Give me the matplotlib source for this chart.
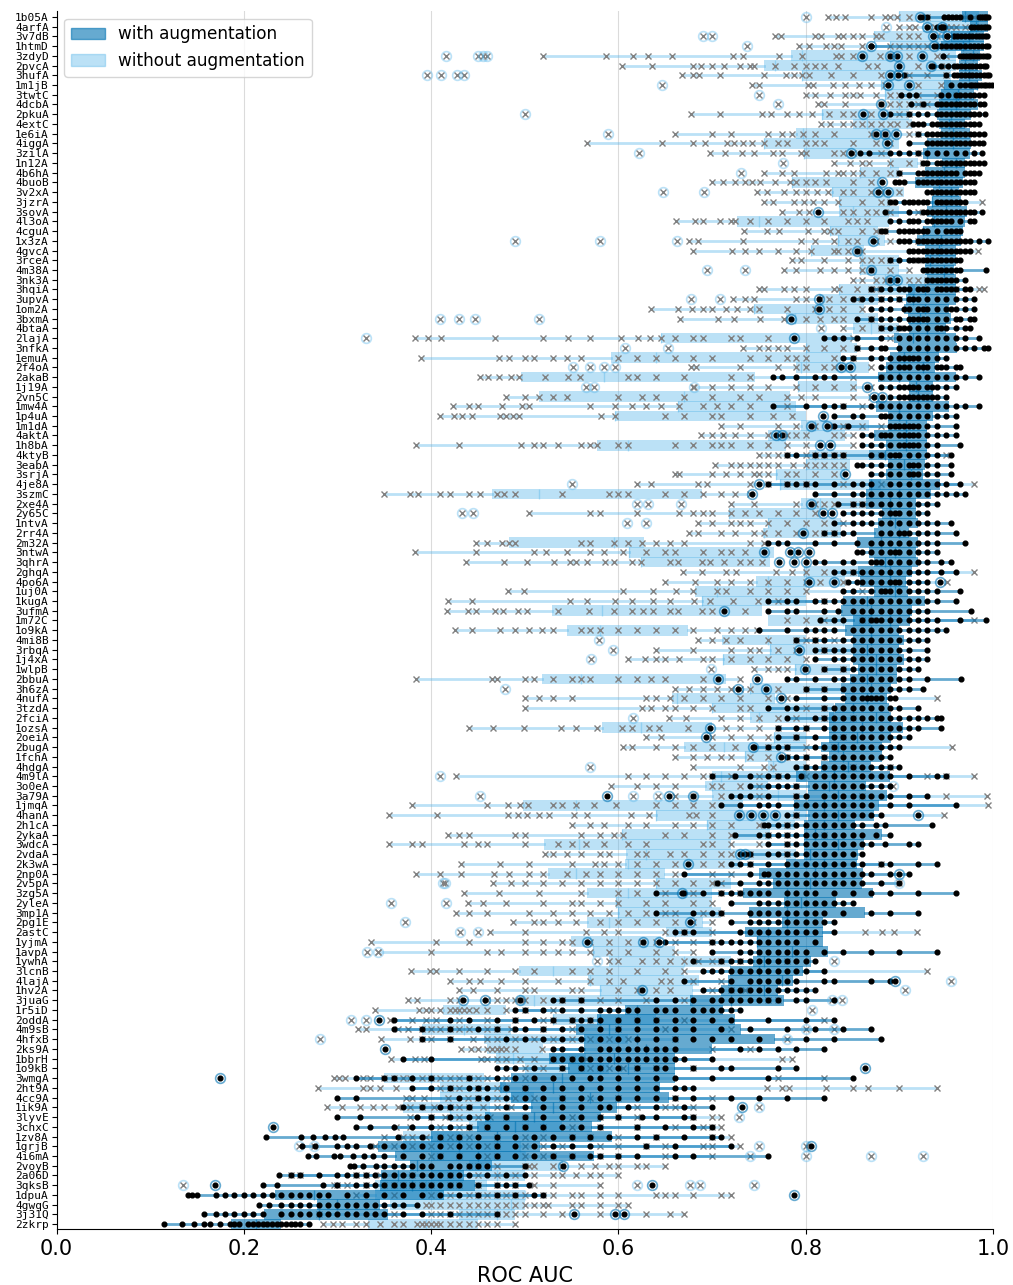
import numpy as np
import matplotlib
matplotlib.use("Agg")
import matplotlib.pyplot as plt
from matplotlib.patches import Patch

labels = """1b05A 4arfA 3v7dB 1htmD 3zdyD 2pvcA 3hufA 1m1jB 3twtC 4dcbA 2pkuA 4extC 1e6iA 4iggA 3zilA 1n12A 4b6hA 4buoB 3v2xA 3jzrA 3sovA 4l3oA 4cguA 1x3zA 4gvcA
3rceA 4m38A 3nk3A 3hqiA 3upvA 1om2A 3bxmA 4btaA 2lajA 3nfkA 1emuA 2f4oA 2akaB 1j19A 2vn5C 1mw4A 1p4uA 1m1dA 4aktA 1h8bA 4ktyB 3eabA 3srjA 4je8A 3szmC 2xe4A 2y65C 1ntvA 2rr4A 2m32A
3ntwA 3qhrA 2ghqA 4po6A 1uj0A 1kugA 3ufmA 1m72C 1o9kA 4mi8B 3rbqA 1j4xA 1wlpB 2bbuA 3h6zA 4nufA 3tzdA 2fciA 1ozsA 2oeiA 2bugA 1fchA 4hdgA 4m9lA 3o0eA 3a79A 1jmqA 4hanA 2h1cA 2ykaA
3wdcA 2vdaA 2k3wA 2np0A 2v5pA 3zg5A 2yleA 3mp1A 2pg1E 2astC 1yjmA 1avpA 1ywhA 3lcnB 4lajA 1hv2A 3juaG 1r5iD 2oddA 4m9sB 4hfxB 2ks9A 1bbrH 1o9kB 3wmgA 2ht9A 4cc9A 1ik9A 3lyvE 3chxC
1zv8A 1grjB 4i6mA 2voyB 2a06D 3qksB 1dpuA 4gwqG 3j31Q 2zkrp""".split()

with_q1 = [.967,.975,.955,.945,.966,.964,.964,.948,.945,.942,.94,.942,.944,.93,.925,.946,.927,.917,.936,.935,.93,.935,.925,.919,.927,
.927,.927,.93,.909,.907,.905,.909,.91,.894,.899,.89,.886,.877,.91,.91,.875,.888,.888,.873,.886,.868,.888,.886,.868,.864,.864,.881,.877,.873,.855,
.868,.873,.856,.858,.873,.84,.838,.851,.842,.851,.851,.851,.856,.847,.838,.842,.831,.825,.825,.825,.816,.825,.816,.79,.802,.802,.787,.802,.798,.798,
.798,.798,.779,.75,.765,.733,.777,.739,.775,.735,.748,.748,.744,.719,.717,.71,.676,.607,.577,.555,.563,.563,.526,.546,.485,.474,.485,.507,.458,.449,
.40,.343,.361,.377,.347,.345,.233,.278,.222,.186]
with_q3 = [.995,.995,.99,.99,.986,.984,.988,.984,.98,.984,.976,.97,.975,.976,.975,.97,.97,.968,.964,.966,.972,.97,.968,.966,.96,
.96,.958,.96,.96,.96,.953,.955,.95,.96,.962,.942,.938,.96,.936,.936,.953,.936,.93,.93,.93,.93,.927,.925,.943,.934,.918,.918,.92,.91,.92,
.918,.92,.914,.907,.909,.927,.914,.911,.90,.905,.90,.905,.898,.898,.891,.887,.889,.891,.904,.891,.882,.882,.87,.89,.864,.887,.878,.873,.853,.882,
.862,.856,.855,.861,.86,.872,.832,.863,.819,.819,.819,.824,.806,.797,.786,.77,.777,.712,.724,.731,.767,.70,.66,.66,.66,.644,.654,.598,.581,.572,
.593,.516,.574,.465,.435,.447,.414,.345,.354,.24]
without_q1 = [.90,.925,.873,.89,.784,.756,.796,.88,.885,.89,.817,.85,.79,.755,.798,.89,.858,.785,.828,.836,.836,.727,.826,.835,.806,
.858,.858,.873,.836,.814,.745,.779,.85,.646,.80,.592,.79,.496,.792,.515,.664,.596,.795,.76,.577,.803,.80,.768,.773,.465,.795,.718,.76,.754,.483,
.611,.624,.798,.747,.682,.689,.529,.76,.545,.711,.762,.712,.789,.518,.74,.657,.70,.74,.582,.766,.67,.735,.76,.70,.693,.70,.498,.64,.695,.604,
.521,.608,.607,.525,.64,.566,.597,.60,.566,.651,.549,.573,.59,.494,.568,.58,.494,.413,.53,.39,.457,.46,.469,.50,.35,.41,.41,.37,.42,.44,
.37,.37,.40,.44,.40,.34,.34,.356,.43,.333]
without_q3 = [.985,.985,.98,.975,.96,.96,.955,.955,.965,.965,.91,.913,.90,.90,.89,.92,.90,.88,.905,.89,.90,.889,.877,.885,.862,
.90,.90,.93,.917,.877,.862,.877,.90,.849,.855,.838,.868,.746,.855,.783,.79,.80,.868,.842,.779,.868,.847,.842,.88,.689,.864,.816,.838,.838,.627,
.766,.762,.856,.842,.80,.80,.753,.87,.674,.80,.851,.798,.847,.715,.838,.767,.83,.83,.70,.80,.80,.774,.80,.80,.76,.80,.733,.80,.789,.762,
.72,.79,.73,.65,.72,.70,.70,.71,.69,.70,.646,.66,.72,.67,.686,.68,.68,.48,.64,.485,.61,.52,.565,.59,.457,.48,.51,.463,.463,.54,
.43,.495,.50,.54,.50,.46,.50,.50,.49,.45]

with_pts = [
[.925,.929,.948,.952,.956,.96,.965,.975,.985,.987,.989,.991,.993,.995],
[.94,.944,.948,.976,.98,.984,.987,.99,.993,.995],
[.936,.951,.958,.962,.966,.97,.974,.978,.982,.985,.988,.991,.994],
[.87,.94,.945,.95,.955,.96,.965,.97,.975,.98,.984,.988,.992,.995],
[.947,.965,.968,.971,.974,.977,.98,.983,.986,.989,.992,.995],
[.936,.945,.952,.958,.962,.966,.97,.974,.978,.982,.986,.99,.993],
[.905,.95,.958,.962,.966,.97,.974,.978,.982,.986,.99,.994,.996],
[.955,.965,.97,.975,.978,.981,.984,.987,.99,.993,.996,.999],
[.902,.91,.918,.945,.952,.96,.965,.97,.975,.98,.985,.99],
[.912,.925,.94,.945,.95,.955,.96,.965,.97,.975,.98,.986,.99],
[.89,.91,.92,.93,.94,.945,.95,.955,.96,.965,.97,.975,.98,.985,.991],
[.915,.92,.925,.935,.94,.945,.95,.955,.96,.965,.97,.975,.98,.985],
[.92,.93,.935,.94,.945,.95,.955,.96,.965,.97,.975,.98,.985,.99],
[.91,.93,.935,.94,.945,.95,.955,.96,.965,.97,.975,.98,.985,.989],
[.858,.868,.89,.9,.91,.92,.93,.94,.95,.96,.97,.98,.988],
[.925,.93,.94,.945,.95,.955,.96,.965,.97,.975,.98,.985,.99],
[.9,.92,.925,.93,.935,.94,.945,.95,.955,.96,.97,.975,.98,.985],
[.895,.9,.905,.92,.925,.93,.935,.94,.945,.95,.955,.96,.965,.97,.975,.98],
[.93,.935,.94,.945,.95,.955,.96,.965,.97,.975,.98],
[.89,.895,.905,.91,.915,.92,.925,.93,.94,.945,.95,.955,.96,.965,.97],
[.885,.91,.925,.93,.935,.94,.945,.95,.955,.96,.965,.97,.975,.98,.988],
[.89,.9,.91,.915,.92,.93,.935,.94,.945,.95,.955,.965,.975,.98],
[.88,.885,.9,.905,.91,.915,.92,.925,.93,.94,.95,.955,.96,.965],
[.9,.905,.91,.92,.925,.93,.935,.94,.945,.95,.955,.96,.965,.97,.975,.985,.995],
[.91,.915,.92,.925,.93,.935,.94,.945,.95,.955,.96,.965,.97,.975],
[.89,.9,.91,.915,.92,.925,.93,.935,.94,.945,.95,.955,.96,.965],
[.925,.93,.935,.94,.945,.95,.955,.96,.965,.992],
[.93,.935,.94,.945,.95,.955,.96,.97],
[.87,.88,.89,.9,.905,.91,.92,.925,.93,.94,.945,.95,.955,.96,.97,.975],
[.85,.86,.87,.88,.89,.9,.91,.915,.92,.93,.94,.95,.96,.97,.98],
[.87,.88,.89,.905,.91,.92,.925,.93,.94,.95,.955,.96,.97,.98],
[.855,.87,.88,.89,.9,.91,.915,.92,.925,.93,.94,.95,.96,.965,.975,.98],
[.88,.89,.9,.905,.91,.92,.93,.94,.945,.95,.96,.97,.975],
[.82,.83,.84,.855,.88,.9,.91,.92,.93,.94,.95,.96,.97,.985],
[.855,.87,.88,.885,.9,.91,.92,.93,.94,.95,.96,.97,.98,.99,.995],
[.84,.85,.87,.88,.89,.9,.905,.91,.915,.92,.93,.94,.95],
[.88,.89,.9,.905,.91,.92,.925,.93,.94,.945,.95,.96,.965],
[.765,.775,.79,.81,.82,.83,.88,.89,.9,.91,.92,.93,.94,.95,.96,.97,.985],
[.88,.89,.9,.905,.91,.915,.92,.93,.935,.94,.95,.96],
[.89,.9,.905,.91,.915,.92,.925,.93,.935,.94,.95],
[.765,.8,.82,.83,.84,.87,.88,.89,.9,.91,.92,.93,.94,.95,.96,.97,.985],
[.83,.85,.86,.88,.885,.89,.9,.91,.92,.93,.94,.95,.96],
[.83,.845,.89,.895,.9,.905,.91,.915,.92,.93,.94,.96],
[.86,.87,.88,.885,.89,.9,.905,.91,.915,.92,.93,.94,.95,.96],
[.86,.87,.88,.89,.9,.905,.91,.915,.92,.93,.94,.965],
[.78,.79,.81,.82,.83,.84,.87,.88,.89,.895,.9,.91,.92,.93,.94,.955],
[.855,.86,.87,.88,.89,.9,.91,.915,.92,.93,.94,.955],
[.87,.88,.89,.9,.91,.915,.92,.93,.94,.955],
[.76,.78,.79,.80,.81,.83,.85,.86,.87,.89,.9,.91,.92,.93,.94,.95,.965],
[.81,.83,.85,.86,.87,.88,.89,.9,.91,.92,.93,.94,.95,.96,.97],
[.835,.85,.86,.87,.88,.89,.9,.91,.92,.93,.94],
[.84,.85,.86,.87,.88,.89,.895,.9,.91,.92,.93],
[.83,.85,.86,.87,.88,.89,.9,.91,.92,.93,.94,.955],
[.82,.83,.84,.85,.88,.89,.9,.905,.91,.92,.93,.94,.96],
[.76,.77,.78,.81,.83,.855,.87,.88,.89,.9,.91,.92,.93,.94,.97],
[.855,.86,.87,.88,.89,.895,.9,.91,.92,.93,.94],
[.81,.82,.84,.85,.87,.875,.88,.89,.9,.91,.92,.93,.945,.955],
[.83,.84,.85,.86,.87,.88,.89,.9,.91,.92,.93,.945,.96],
[.845,.855,.86,.87,.88,.89,.895,.9,.91,.92,.93],
[.84,.85,.87,.88,.885,.89,.9,.91,.92,.93,.94,.965],
[.76,.78,.79,.81,.82,.83,.84,.85,.86,.87,.88,.89,.9,.91,.92,.93,.94,.96],
[.76,.78,.79,.82,.835,.85,.86,.87,.88,.89,.9,.91,.92,.93,.976],
[.815,.83,.84,.86,.87,.875,.88,.89,.9,.91,.92,.93,.94,.965,.992],
[.75,.78,.80,.81,.82,.83,.85,.86,.87,.88,.89,.9,.91,.92,.93,.94,.95],
[.79,.81,.82,.84,.85,.86,.87,.88,.89,.9,.91,.92,.93],
[.81,.82,.83,.84,.85,.86,.87,.88,.89,.9,.91,.93],
[.81,.83,.84,.85,.86,.87,.88,.89,.9,.91,.92,.93],
[.82,.84,.85,.86,.87,.88,.89,.9,.91,.92],
[.78,.79,.81,.83,.84,.85,.86,.87,.88,.89,.9,.91,.93,.966],
[.80,.82,.84,.85,.86,.87,.88,.89,.9,.91,.925],
[.79,.82,.84,.85,.86,.865,.87,.875,.88,.89,.895],
[.76,.78,.79,.82,.83,.84,.85,.86,.87,.88,.89,.9,.92],
[.78,.81,.82,.83,.84,.85,.86,.87,.88,.89,.9,.91,.92,.93,.94,.945],
[.77,.79,.80,.82,.83,.84,.85,.86,.87,.88,.89,.9,.91,.92,.945],
[.77,.79,.81,.83,.84,.85,.86,.87,.88,.89,.9,.91],
[.745,.76,.77,.78,.81,.82,.83,.84,.85,.86,.87,.88,.89,.9],
[.78,.79,.80,.82,.83,.84,.85,.86,.87,.88,.89],
[.79,.80,.81,.82,.83,.84,.85,.86,.87,.88,.89,.9],
[.70,.725,.74,.76,.77,.78,.795,.81,.82,.83,.84,.85,.86,.87,.88,.89,.91,.94,.95],
[.74,.76,.77,.78,.79,.81,.82,.83,.84,.85,.86,.87,.88,.89],
[.72,.73,.74,.76,.79,.80,.82,.83,.84,.85,.86,.87,.88,.89,.91,.93],
[.71,.73,.75,.76,.77,.79,.80,.81,.82,.83,.84,.85,.86,.87,.89,.91,.96],
[.78,.79,.81,.82,.83,.84,.85,.86,.87,.88],
[.755,.76,.77,.78,.79,.80,.81,.82,.83,.84,.85,.86,.875,.885,.935],
[.725,.75,.76,.77,.78,.79,.80,.81,.82,.83,.84,.85,.86,.875,.89],
[.76,.78,.79,.80,.81,.82,.83,.84,.85,.86,.87,.885,.91,.92],
[.74,.76,.77,.78,.79,.80,.81,.82,.83,.84,.85,.86],
[.72,.73,.74,.76,.78,.79,.80,.81,.82,.83,.84,.85,.86,.88,.89,.92,.94],
[.67,.74,.755,.76,.77,.78,.79,.80,.81,.82,.83,.84,.85,.86,.87,.89,.91],
[.705,.73,.75,.76,.77,.78,.79,.80,.81,.82,.83,.84,.85,.86,.88,.90],
[.64,.67,.69,.71,.72,.73,.74,.75,.76,.78,.79,.80,.81,.83,.85,.87,.89,.92,.96],
[.72,.75,.76,.77,.78,.79,.80,.81,.82,.83,.84,.85],
[.64,.68,.70,.71,.74,.75,.76,.77,.78,.79,.80,.81,.82,.84,.87,.89,.92],
[.72,.74,.75,.76,.77,.78,.79,.80,.81,.82,.83],
[.66,.67,.68,.73,.74,.75,.76,.77,.78,.79,.80,.81,.83],
[.65,.70,.71,.72,.73,.74,.75,.76,.77,.78,.79,.81],
[.70,.73,.74,.75,.76,.77,.78,.79,.80,.82,.84,.87,.90,.94],
[.68,.71,.72,.73,.74,.75,.76,.77,.78,.79,.80,.81],
[.69,.70,.71,.72,.73,.74,.75,.76,.77,.78,.79,.80,.82],
[.67,.72,.74,.75,.76,.77,.78,.79,.82,.83,.87,.89],
[.69,.71,.72,.73,.74,.75,.76,.77,.78,.79,.80,.81],
[.53,.54,.56,.64,.66,.68,.70,.71,.72,.73,.74,.75,.76,.77,.79,.80,.83],
[.49,.50,.52,.54,.56,.58,.59,.60,.61,.62,.64,.65,.66,.68,.69,.70,.71,.72,.73],
[.36,.42,.44,.47,.49,.51,.53,.55,.56,.57,.58,.60,.62,.64,.66,.68,.70,.72,.76,.80,.83],
[.36,.39,.42,.45,.47,.49,.50,.52,.54,.56,.58,.60,.62,.64,.66,.68,.71,.74,.78,.81,.84,.87],
[.39,.42,.48,.50,.52,.54,.56,.58,.60,.62,.64,.66,.68,.70,.72,.75,.80,.83,.88],
[.53,.54,.56,.58,.59,.60,.61,.62,.63,.64,.65,.66,.73,.75,.77,.79,.82],
[.37,.40,.53,.54,.55,.56,.57,.58,.59,.60,.61,.62,.63,.64,.65,.66,.67,.70],
[.47,.48,.49,.51,.54,.56,.58,.60,.62,.64,.65,.68,.71,.72,.77,.79],
[.32,.35,.36,.38,.40,.44,.47,.49,.51,.53,.55,.57,.58,.60,.62,.64,.66,.70,.76,.85],
[.38,.40,.42,.44,.45,.46,.48,.50,.52,.54,.56,.58,.60,.62,.64,.66,.67,.68],
[.30,.32,.43,.45,.46,.48,.50,.52,.54,.56,.58,.60,.62,.64,.66,.68,.72,.75,.78,.82],
[.37,.39,.41,.42,.44,.48,.50,.52,.54,.56,.58,.59,.61,.64,.67,.70],
[.299,.324,.385,.40,.42,.44,.46,.48,.50,.52,.54,.56,.58,.60,.625,.64,.67,.68],
[.32,.335,.36,.38,.40,.42,.44,.46,.48,.50,.52,.54,.56,.58,.62,.65,.68,.70],
[.224,.261,.274,.287,.297,.306,.365,.39,.41,.43,.45,.47,.49,.51,.53,.55,.57,.59,.62,.64,.67,.70,.71],
[.262,.276,.30,.31,.32,.335,.35,.37,.39,.41,.43,.45,.47,.49,.51,.53,.55,.57,.63,.66,.72],
[.269,.277,.296,.303,.317,.328,.338,.35,.37,.39,.41,.43,.45,.47,.49,.51,.53,.55,.57,.58,.60,.62,.66,.68,.76],
[.313,.318,.327,.341,.35,.36,.37,.38,.39,.40,.42,.43,.44,.45,.46,.50],
[.238,.25,.26,.28,.30,.31,.32,.33,.34,.35,.36,.37,.38,.39,.40,.41,.42,.43,.44,.46,.48,.50],
[.22,.235,.285,.30,.32,.33,.34,.35,.36,.37,.38,.39,.40,.41,.42,.43,.45,.47,.48,.49,.505],
[.14,.145,.15,.17,.18,.19,.2,.21,.22,.23,.24,.25,.26,.27,.28,.29,.31,.33,.35,.37,.39,.41,.43,.45,.47,.49,.51,.52],
[.216,.227,.24,.25,.26,.27,.28,.29,.30,.31,.32,.33,.34,.35,.36,.37,.385],
[.158,.17,.18,.19,.2,.21,.22,.24,.25,.26,.27,.28,.29,.30,.31,.32,.33,.34,.35,.37,.39,.42,.47],
[.115,.134,.147,.157,.164,.175,.185,.19,.195,.205,.21,.215,.22,.225,.23,.235,.24,.245,.25,.255,.26,.27],
]

without_pts = [
[.824,.832,.842,.87,.885,.89,.897,.91,.93,.95,.97,.98],
[.90,.91,.917,.932,.938,.95,.955,.96,.97,.98],
[.767,.774,.81,.816,.834,.84,.85,.86,.875,.88,.90,.91,.92,.94,.95,.96],
[.793,.803,.822,.83,.838,.86,.89,.90,.91,.92,.93,.95,.96],
[.52,.587,.616,.632,.657,.722,.733,.772,.796,.832,.838,.85,.879,.89,.91,.94,.95],
[.604,.636,.68,.688,.70,.713,.73,.74,.745,.767,.788,.80,.81,.82,.834,.866,.876,.92,.95],
[.668,.68,.686,.708,.755,.779,.787,.796,.804,.827,.85,.88,.91,.93,.95],
[.743,.75,.802,.808,.829,.842,.857,.87,.885,.92,.945],
[.80,.81,.826,.842,.85,.858,.875,.89,.90,.92,.94,.96],
[.813,.82,.842,.88,.89,.90,.91,.92,.93,.945,.96],
[.677,.708,.753,.763,.78,.793,.807,.825,.84,.85,.87,.90,.91],
[.816,.826,.84,.85,.86,.87,.88,.89,.897,.91],
[.66,.70,.72,.76,.775,.785,.797,.81,.83,.87,.885,.91,.92],
[.567,.647,.68,.693,.716,.723,.733,.743,.755,.77,.78,.80,.81,.82,.85,.875,.89],
[.698,.714,.732,.745,.765,.775,.795,.80,.83,.84,.85,.88,.92],
[.83,.847,.86,.868,.89,.91,.925],
[.756,.775,.787,.822,.834,.84,.85,.86,.875,.89,.90],
[.70,.712,.725,.735,.743,.751,.767,.783,.79,.80,.81,.822,.85,.87],
[.748,.759,.777,.79,.80,.812,.824,.84,.85,.87,.88,.90],
[.755,.765,.787,.798,.808,.82,.835,.86,.88,.89,.95,.988],
[.775,.793,.803,.84,.85,.865,.875,.89,.92],
[.662,.682,.69,.708,.72,.725,.74,.76,.78,.80,.82,.845,.855,.865],
[.734,.759,.771,.802,.82,.826,.835,.86,.875,.885],
[.675,.685,.733,.795,.81,.83,.845,.855,.875,.89,.92],
[.68,.721,.735,.75,.77,.79,.806,.83,.835,.845,.855,.86,.984],
[.785,.795,.82,.845,.86,.87,.88,.89,.92],
[.777,.79,.815,.83,.845,.86,.87,.89,.91],
[.85,.86,.875,.885,.91,.92,.93],
[.75,.755,.777,.787,.80,.83,.836,.855,.87,.875,.96,.985,.99],
[.722,.735,.745,.79,.80,.815,.825,.84,.855,.88,.90],
[.635,.664,.679,.69,.70,.715,.727,.74,.75,.78,.81,.825,.84,.86],
[.666,.706,.723,.751,.777,.80,.815,.83,.84,.87],
[.84,.86,.88,.90],
[.383,.397,.411,.468,.52,.546,.57,.603,.621,.634,.645,.66,.68,.69,.72,.73,.76,.85,.89],
[.733,.75,.76,.77,.78,.80,.82,.84,.855],
[.389,.472,.483,.50,.51,.53,.545,.56,.60,.62,.64,.66,.68,.70,.74,.76,.78,.79,.80,.83,.85],
[.677,.683,.73,.77,.79,.80,.82,.83,.84,.87],
[.452,.461,.472,.485,.494,.522,.546,.559,.61,.62,.64,.67,.72,.74,.85,.88],
[.68,.70,.72,.74,.76,.79,.81,.83,.85,.87],
[.48,.50,.515,.53,.545,.60,.625,.64,.67,.70,.73,.75,.78,.795,.81,.85,.87],
[.423,.44,.45,.476,.497,.505,.57,.596,.615,.63,.645,.665,.69,.705,.72,.74,.78,.84,.86],
[.409,.424,.433,.444,.474,.48,.487,.494,.581,.596,.65,.67,.70,.71,.74,.765,.785],
[.71,.73,.77,.79,.81,.825,.84,.86,.88],
[.688,.70,.712,.725,.74,.76,.78,.79,.80,.83,.84,.85],
[.384,.43,.496,.51,.52,.535,.56,.57,.577,.60,.61,.66,.68,.70,.71,.72,.74,.76,.78,.80,.85],
[.75,.76,.77,.78,.80,.81,.82,.83,.84,.88,.95],
[.703,.72,.73,.74,.75,.76,.77,.786,.80,.81,.82,.83,.84],
[.66,.665,.70,.715,.73,.745,.75,.76,.78,.79,.81,.83],
[.62,.635,.685,.695,.74,.76,.78,.80,.84,.88,.98],
[.35,.378,.386,.41,.42,.44,.452,.47,.478,.49,.54,.59,.60,.61,.65,.67,.69,.71,.725,.74],
[.72,.745,.79,.81,.82,.83,.85,.86],
[.505,.57,.58,.62,.665,.68,.69,.70,.72,.735,.75,.77,.79,.81],
[.685,.70,.72,.73,.74,.76,.78,.80,.82,.84],
[.675,.685,.71,.725,.745,.755,.77,.79,.81,.82,.83],
[.448,.46,.476,.483,.49,.56,.57,.595,.61,.625,.64,.655,.67,.74,.755],
[.383,.448,.51,.523,.545,.57,.585,.605,.63,.65,.66,.69,.71,.72,.735],
[.437,.478,.502,.531,.548,.555,.567,.586,.595,.615,.624,.655,.664,.689,.698,.713,.73,.74,.753],
[.669,.689,.715,.726,.768,.785,.80,.82,.85,.98],
[.65,.682,.705,.72,.74,.76,.78,.80,.815,.84,.951],
[.482,.499,.605,.637,.662,.68,.705,.715,.74,.76,.78,.80,.86],
[.418,.444,.548,.566,.596,.615,.637,.655,.681,.698,.722,.749,.77,.82],
[.417,.439,.448,.468,.477,.493,.502,.535,.569,.595,.615,.626,.637,.655,.664,.689,.70,.735],
[.78,.80,.82,.86,.87,.98],
[.425,.444,.474,.49,.505,.518,.53,.56,.57,.58,.60,.62,.64,.66,.68,.705,.72,.735,.748],
[.685,.70,.715,.73,.76,.79,.80,.81,.83],
[.64,.68,.72,.74,.75,.77,.79,.82],
[.61,.628,.64,.65,.665,.69,.70,.72,.74,.76,.78,.80],
[.745,.76,.77,.78,.80,.82,.84],
[.384,.465,.47,.50,.51,.53,.55,.56,.57,.60,.62,.635,.65,.69,.73],
[.66,.675,.69,.705,.72,.73,.74,.77,.80,.82],
[.50,.515,.53,.55,.63,.64,.655,.67,.69,.71,.73,.76,.78,.94],
[.50,.625,.635,.65,.66,.68,.70,.73,.74,.80,.82],
[.654,.672,.71,.73,.75,.77,.79,.82,.85],
[.441,.466,.499,.539,.555,.577,.604,.615,.633,.643,.674,.715,.73,.75,.77,.80],
[.63,.645,.70,.72,.74,.76,.79,.84],
[.605,.615,.64,.66,.68,.70,.725,.76,.78,.80,.83,.956],
[.66,.68,.695,.71,.72,.74,.76,.78,.80,.82],
[.68,.73,.755,.765,.80,.85,.89],
[.427,.61,.63,.65,.67,.69,.70,.72,.75,.77,.80,.93,.95,.98],
[.592,.62,.64,.66,.70,.71,.73,.75,.79],
[.66,.68,.71,.75,.79,.86,.95,.994],
[.38,.46,.482,.495,.504,.53,.54,.555,.574,.597,.64,.66,.68,.70,.995],
[.355,.406,.482,.493,.502,.515,.526,.553,.567,.613,.633,.675,.683,.70,.79,.948],
[.55,.57,.585,.61,.63,.66,.68,.70,.72,.75,.78],
[.418,.43,.44,.49,.50,.56,.58,.595,.605,.65,.67,.70,.72,.76,.78,.82],
[.355,.38,.39,.435,.45,.46,.50,.535,.55,.565,.585,.61,.63,.69,.70,.72,.75,.78],
[.522,.53,.545,.56,.58,.59,.62,.63,.655,.67,.69,.71,.72,.74,.78],
[.432,.474,.505,.55,.575,.585,.60,.62,.64,.66,.69,.71,.74,.88],
[.384,.41,.432,.467,.483,.505,.52,.545,.565,.58,.60,.62,.64,.66,.70,.72],
[.466,.485,.50,.52,.54,.56,.58,.60,.62,.64,.66,.68,.70,.71],
[.435,.473,.515,.56,.60,.62,.65,.68,.71,.73],
[.439,.455,.48,.52,.55,.56,.58,.60,.63,.65,.68,.70],
[.427,.44,.46,.505,.53,.55,.57,.59,.61,.63,.65,.66,.69,.71],
[.487,.51,.52,.535,.555,.58,.60,.62,.64,.66,.68,.70],
[.463,.50,.565,.585,.60,.65,.67,.70,.863,.881,.894,.919],
[.336,.405,.44,.50,.52,.54,.55,.57,.59,.61,.625,.64,.66,.68,.70],
[.343,.40,.46,.475,.50,.52,.535,.55,.57,.59,.61,.64,.66,.68],
[.59,.60,.625,.64,.655,.67,.685,.70,.71,.73,.78],
[.379,.399,.405,.43,.46,.49,.51,.55,.57,.59,.62,.65,.67,.93],
[.42,.44,.452,.475,.50,.535,.57,.59,.605,.645,.655,.68,.71],
[.43,.445,.47,.50,.51,.55,.56,.60,.62,.64,.655,.70,.72,.735],
[.375,.385,.42,.43,.46,.47,.48,.49,.50,.52,.54,.56,.58,.60,.63,.67,.76,.77],
[.34,.387,.395,.40,.41,.42,.425,.43,.435,.44,.448,.46,.48,.50,.53],
[.356,.38,.395,.405,.43,.46,.49,.52,.53,.55,.57,.60,.62,.64,.67,.82],
[.322,.331,.365,.375,.39,.40,.41,.42,.43,.44,.46,.47,.485,.52,.55,.60,.65,.72],
[.346,.377,.39,.40,.42,.445,.46,.47,.49,.51,.53,.55,.57,.59,.61,.66],
[.432,.443,.45,.46,.465,.47,.475,.48,.49,.518,.70,.74],
[.357,.383,.392,.453,.46,.47,.48,.495,.51,.53,.55,.565,.775,.785],
[.50,.52,.54,.56,.57,.58,.59,.605,.62,.64,.68],
[.296,.302,.308,.327,.335,.35,.36,.37,.378,.39,.40,.41,.42,.43,.44,.45,.46,.48,.50,.77,.82],
[.279,.327,.335,.345,.362,.41,.42,.43,.45,.47,.48,.50,.759,.775,.782,.822,.85,.866,.90,.94],
[.373,.38,.392,.418,.439,.45,.47,.49,.51,.54,.57,.60,.66,.70],
[.289,.305,.324,.338,.35,.365,.378,.39,.403,.42,.43,.44,.455,.47,.485,.62,.65,.66,.68],
[.377,.40,.415,.43,.45,.463,.48,.50,.55,.58,.60,.62,.68,.70,.71],
[.362,.378,.41,.43,.44,.46,.50,.52,.55,.58,.62,.66,.69,.70,.71],
[.35,.37,.38,.395,.41,.42,.43,.44,.47,.50,.52,.55,.57,.60,.64,.70,.72],
[.34,.36,.38,.40,.42,.44,.46,.47,.50,.52,.54,.58,.60,.63,.65,.69,.70,.73],
[.40,.41,.43,.46,.47,.50,.52,.53,.55,.58,.60,.65,.70],
[.44,.45,.47,.50,.505,.51,.53,.54,.56,.575,.59,.60,.62,.63,.65],
[.25,.26,.32,.33,.345,.38,.42,.45,.47,.49,.51,.53,.54,.555,.57,.58,.60],
[.296,.30,.31,.33,.35,.36,.37,.38,.39,.40,.42,.43,.45,.47,.49,.51,.53,.58],
[.32,.36,.40,.42,.44,.45,.46,.47,.48,.49,.50,.52,.53,.55,.56,.58,.60,.64,.65,.66,.68,.71,.72],
[.395,.40,.41,.42,.43,.44,.45,.46,.47,.48,.49,.50,.51,.52,.525,.55,.56,.58,.60,.61],
[.28,.36,.40,.41,.42,.43,.44,.45,.46,.47,.48,.49,.50,.52,.54,.58,.63,.655,.67],
[.285,.295,.305,.32,.33,.345,.36,.37,.385,.39,.395,.40,.405,.41,.42,.43,.44,.45,.46,.47,.49],
]

with_fliers = {"1b05A":[.922],"4arfA":[.93,.946],"3v7dB":[.936,.951],"1htmD":[.87,.937],"3zdyD":[.86,.89,.897,.924],"2pvcA":[.90,.934],"3hufA":[.89,.899],
"1m1jB":[.888,.91],"4dcbA":[.88],"2pkuA":[.861,.883],"1e6iA":[.875,.885,.896],"4iggA":[.887],"3zilA":[.848],"4buoB":[.881],"3v2xA":[.877,.888],"3sovA":[.813],
"1x3zA":[.872],"4gvcA":[.855],"4m38A":[.87],"3nk3A":[.89,.898],"3upvA":[.814],"1om2A":[.814],"3bxmA":[.784],"2lajA":[.788],"2f4oA":[.838,.847],"1j19A":[.865],
"2vn5C":[.873,.881],"1p4uA":[.819],"1m1dA":[.806,.823],"4aktA":[.768,.775],"1h8bA":[.815,.826],"3srjA":[.842],"4je8A":[.75],"3szmC":[.743],"2xe4A":[.806],
"2y65C":[.818,.828],"2rr4A":[.797],"3ntwA":[.755,.783,.792,.803],"3qhrA":[.771,.787,.80],"4po6A":[.804,.83,.943],"3ufmA":[.713],"3rbqA":[.793],"1wlpB":[.799],
"2bbuA":[.706,.748],"3h6zA":[.728,.758],"4nufA":[.774],"1ozsA":[.698],"2oeiA":[.694],"2bugA":[.744],"1fchA":[.774],"3a79A":[.588,.654,.68],
"4hanA":[.729,.742,.754,.767,.92],"2vdaA":[.73,.735],"2k3wA":[.674],"2np0A":[.90],"3zg5A":[.668],"2pg1E":[.676],"1yjmA":[.567,.626,.643],"4lajA":[.895],
"1hv2A":[.625],"3juaG":[.434,.458,.495],"2oddA":[.344],"2ks9A":[.351],"1o9kB":[.863],"3wmgA":[.175],"1ik9A":[.732],"3chxC":[.231],"1grjB":[.806],
"3qksB":[.169,.636],"1dpuA":[.787],"3j31Q":[.553,.596,.606],"2voyB":[.541]}
without_fliers = {"1b05A":[.80],"4arfA":[.886],"3v7dB":[.69,.70],"1htmD":[.737],"3zdyD":[.416,.45,.455,.46],"3hufA":[.396,.411,.428,.435],"1m1jB":[.647],
"3twtC":[.75],"4dcbA":[.77],"2pkuA":[.50],"1e6iA":[.589],"3zilA":[.622],"1n12A":[.776],"4b6hA":[.731],"3v2xA":[.648,.691],"1x3zA":[.49,.58,.663],
"4m38A":[.695,.735],"3upvA":[.678,.709],"3bxmA":[.409,.43,.447,.515],"4btaA":[.816],"2lajA":[.33],"3nfkA":[.607,.653],"2f4oA":[.552,.57,.585,.596],"1j19A":[.565,.574,.681],
"4je8A":[.55],"2xe4A":[.62,.632,.667],"2y65C":[.433,.445],"1ntvA":[.609,.629],"4mi8B":[.579],"3rbqA":[.594],"1j4xA":[.571],"1wlpB":[.699],"3h6zA":[.479],
"2fciA":[.616],"4hdgA":[.57],"4m9lA":[.409],"3o0eA":[.893],"3a79A":[.452,.616,.642],"2v5pA":[.413,.415,.90],"2yleA":[.357,.416],"2pg1E":[.372],
"2astC":[.431,.45],"1avpA":[.332,.343],"1ywhA":[.577,.83],"4lajA":[.955],"1hv2A":[.906],"3juaG":[.828,.839],"1r5iD":[.807],"2oddA":[.314,.33],"4hfxB":[.281,.78],
"4m9sB":[.80,.83],"1ik9A":[.75],"3lyvE":[.729],"3qksB":[.135,.62,.676,.687,.745],"1grjB":[.259,.275,.75,.80],"4i6mA":[.74,.80,.87,.925]}

WITH_COL = "#0072B2"
WITHOUT_COL = "#56B4E9"

fig = plt.figure(figsize=(10.13, 12.85), dpi=100)
ax = fig.add_axes([56.5 / 1013, 56 / 1285, 936.5 / 1013, 1218 / 1285])


def draw_series(q1, q3, pts, fliers, color, alpha, marker, mcolor, msize, z):
    stats = []
    for i, name in enumerate(labels):
        vals = pts[i]
        stats.append({"q1": q1[i], "q3": q3[i],
                      "med": float(np.clip(np.median(vals), q1[i], q3[i])),
                      "whislo": min(vals + [q1[i]]), "whishi": max(vals + [q3[i]]),
                      "fliers": []})
    pos = np.arange(len(labels))
    ax.bxp(stats, positions=pos, widths=1.1, orientation="horizontal", patch_artist=True,
           showcaps=False, showfliers=False, manage_ticks=False, zorder=z,
           boxprops=dict(facecolor=color, edgecolor="none", alpha=alpha),
           medianprops=dict(color=color, alpha=alpha, lw=1),
           whiskerprops=dict(color=color, alpha=alpha, lw=2))
    xs, ys, fx, fy = [], [], [], []
    for i, name in enumerate(labels):
        xs += pts[i]
        ys += [i] * len(pts[i])
        extra = fliers.get(name, [])
        fx += extra
        fy += [i] * len(extra)
    ax.plot(xs + fx, ys + fy, ls="none", marker=marker, color=mcolor, ms=msize,
            mew=1, zorder=z + 1)
    ax.plot(fx, fy, ls="none", marker="o", mfc="none", mec=color, ms=7, mew=1.2,
            alpha=alpha, zorder=z + 2)


draw_series(without_q1, without_q3, without_pts, without_fliers, WITHOUT_COL, .4, "x", "gray", 3.8, 2)
draw_series(with_q1, with_q3, with_pts, with_fliers, WITH_COL, .6, "o", "black", 3.4, 3)

ax.set_xlim(0, 1)
ax.set_ylim(len(labels) - 0.5, -0.6)
ax.set_yticks(np.arange(len(labels)))
ax.set_yticklabels(labels, fontsize=8, family="DejaVu Sans Mono")
ax.tick_params(axis="x", labelsize=15)
ax.tick_params(axis="y", pad=2)
ax.set_xticks([0, .2, .4, .6, .8, 1.0])
ax.set_xlabel("ROC AUC", fontsize=15, labelpad=5)
ax.grid(axis="x", color="lightgray", alpha=.8, zorder=0)
ax.set_axisbelow(True)
ax.spines["top"].set_visible(False)
ax.spines["right"].set_visible(False)
ax.legend(handles=[Patch(color=WITH_COL, alpha=.6, label="with augmentation"),
                   Patch(color=WITHOUT_COL, alpha=.4, label="without augmentation")],
          loc="upper left", fontsize=12.2, bbox_to_anchor=(0.0, 1.0), borderaxespad=.45)
fig.savefig("out.png", dpi=100)
